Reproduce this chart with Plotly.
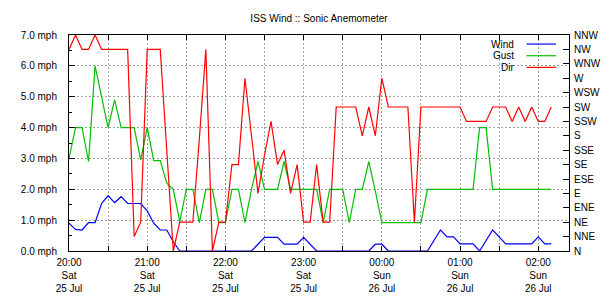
import pandas as pd
import plotly.graph_objects as go

# ---- data (5-minute samples from 20:00 Sat 25 Jul) ----
sample_start = "2015-07-25 20:00"
sample_count = 75
sample_step = "5min"

wind_mph = [0.90, 0.70, 0.68, 0.92, 0.92, 1.54, 1.79, 1.57, 1.76, 1.54,
            1.54, 1.54, 1.30, 0.90, 0.68, 0.68, 0.30, 0.00, 0.00, 0.00,
            0.00, 0.00, 0.00, 0.00, 0.00, 0.00, 0.00, 0.00, 0.00, 0.22,
            0.44, 0.44, 0.44, 0.22, 0.22, 0.22, 0.44, 0.22, 0.00, 0.00,
            0.00, 0.00, 0.00, 0.00, 0.00, 0.00, 0.00, 0.22, 0.22, 0.00,
            0.00, 0.00, 0.00, 0.00, 0.00, 0.00, 0.34, 0.68, 0.46, 0.46,
            0.23, 0.23, 0.23, 0.00, 0.34, 0.68, 0.46, 0.23, 0.23, 0.23,
            0.23, 0.23, 0.46, 0.23, 0.23]

gust_mph = [3.0, 4.0, 4.0, 2.9, 6.0, 5.0, 4.0, 4.9, 4.0, 4.0,
            4.0, 2.95, 4.0, 2.93, 2.93, 2.2, 2.0, 0.95, 2.0, 2.0,
            0.92, 2.0, 2.0, 0.92, 0.92, 2.0, 2.0, 0.92, 2.0, 2.9,
            2.0, 2.0, 2.0, 2.9, 2.0, 2.0, 2.0, 2.0, 2.0, 0.92,
            2.0, 2.0, 2.0, 0.92, 2.0, 2.0, 2.9, 1.95, 0.92, 0.92,
            0.92, 0.92, 0.92, 0.92, 0.92, 2.0, 2.0, 2.0, 2.0, 2.0,
            2.0, 2.0, 2.0, 4.0, 4.0, 2.0, 2.0, 2.0, 2.0, 2.0,
            2.0, 2.0, 2.0, 2.0, 2.0]

dir_deg = [315, 337.5, 315, 315, 337.5, 315, 315, 315, 315, 315,
           22.5, 45, 315, 315, 315, 157.5, 0, 45, 45, 45,
           175, 315, 0, 45, 45, 135, 135, 270, 180, 90,
           150, 202.5, 135, 157.5, 90, 135, 45, 45, 135, 45,
           45, 225, 225, 225, 225, 180, 225, 180, 270, 225,
           225, 225, 225, 45, 225, 225, 225, 225, 225, 225,
           225, 202.5, 202.5, 202.5, 202.5, 225, 225, 225, 202.5, 225,
           202.5, 225, 202.5, 202.5, 225]

series_names = ["Wind", "Gust", "Dir"]
series_colors = ["#0000ff", "#00c000", "#ff0000"]

x_tick_times = ["2015-07-25 20:00", "2015-07-25 20:30", "2015-07-25 21:00", "2015-07-25 21:30",
                "2015-07-25 22:00", "2015-07-25 22:30", "2015-07-25 23:00", "2015-07-25 23:30",
                "2015-07-26 00:00", "2015-07-26 00:30", "2015-07-26 01:00", "2015-07-26 01:30",
                "2015-07-26 02:00"]
x_tick_labels = ["20:00<br>Sat<br>25 Jul", "", "21:00<br>Sat<br>25 Jul", "",
                 "22:00<br>Sat<br>25 Jul", "", "23:00<br>Sat<br>25 Jul", "",
                 "00:00<br>Sun<br>26 Jul", "", "01:00<br>Sun<br>26 Jul", "",
                 "02:00<br>Sun<br>26 Jul"]
x_range = ["2015-07-25 20:00", "2015-07-26 02:23:36"]

mph_ticks = [0, 1, 2, 3, 4, 5, 6, 7]
mph_labels = ["0.0 mph", "1.0 mph", "2.0 mph", "3.0 mph", "4.0 mph", "5.0 mph", "6.0 mph", "7.0 mph"]

compass_labels = ["N", "NNE", "NE", "ENE", "E", "ESE", "SE", "SSE",
                  "S", "SSW", "SW", "WSW", "W", "WNW", "NW", "NNW"]
compass_ticks = [22.5 * i for i in range(len(compass_labels))]

title_text = "ISS Wind :: Sonic Anemometer"

times = pd.date_range(sample_start, periods=sample_count, freq=sample_step)

FONT = "Liberation Sans, Arial, sans-serif"

fig = go.Figure()
fig.add_trace(go.Scatter(x=times, y=wind_mph, mode="lines", name=series_names[0],
                         line=dict(color=series_colors[0], width=1.2), yaxis="y"))
fig.add_trace(go.Scatter(x=times, y=gust_mph, mode="lines", name=series_names[1],
                         line=dict(color=series_colors[1], width=1.2), yaxis="y"))
fig.add_trace(go.Scatter(x=times, y=dir_deg, mode="lines", name=series_names[2],
                         line=dict(color=series_colors[2], width=1.2), yaxis="y2"))

grid_style = dict(gridcolor="#a0a0a0", griddash="2px,2px", gridwidth=1)

fig.update_layout(
    width=610, height=300,
    margin=dict(l=69, r=41, t=35, b=49, autoexpand=False),
    paper_bgcolor="white", plot_bgcolor="white",
    showlegend=False,
    font=dict(family=FONT, size=10, color="black"),
    title=dict(text=title_text, x=0.5, xref="paper", y=1 - 18.5 / 300, yref="container",
               xanchor="center", yanchor="middle", automargin=False,
               font=dict(family=FONT, size=10, color="black")),
    xaxis=dict(
        type="date", range=x_range, automargin=False,
        tickvals=x_tick_times, ticktext=x_tick_labels,
        ticks="inside", ticklen=5, tickcolor="black", tickwidth=1,
        showline=True, linecolor="black", linewidth=1, mirror="ticks",
        showgrid=True, zeroline=False, tickangle=0, ticklabelstandoff=2,
        ticklabeloverflow="allow",
        tickfont=dict(family=FONT, size=10, color="black"),
        **grid_style,
    ),
    yaxis=dict(
        range=[0, 7], tickvals=mph_ticks, ticktext=mph_labels, automargin=False,
        ticks="inside", ticklen=6, tickcolor="black", tickwidth=1,
        minor=dict(dtick=0.5, ticks="inside", ticklen=3, tickcolor="black", showgrid=False),
        showline=True, linecolor="black", linewidth=1, mirror=True,
        showgrid=True, zeroline=False, ticklabelstandoff=9,
        tickfont=dict(family=FONT, size=10, color="black"),
        **grid_style,
    ),
    yaxis2=dict(
        range=[0, 337.5], tickvals=compass_ticks, ticktext=compass_labels,
        overlaying="y", side="right", automargin=False,
        ticks="inside", ticklen=6, tickcolor="black", tickwidth=1,
        showline=False, showgrid=False, zeroline=False, ticklabelstandoff=4,
        tickfont=dict(family=FONT, size=10, color="black"),
    ),
)

# legend drawn inside top-right, text to the left of the line sample
legend_rows_y = [0.958, 0.904, 0.850]
for name, color, yy in zip(series_names, series_colors, legend_rows_y):
    fig.add_annotation(xref="paper", yref="paper", x=0.894, y=yy, text=name,
                       showarrow=False, xanchor="right", yanchor="middle",
                       font=dict(family=FONT, size=10, color="black"))
    fig.add_shape(type="line", xref="paper", yref="paper", x0=0.915, x1=0.974, y0=yy, y1=yy,
                  line=dict(color=color, width=1.2))

fig.write_html("out.html")
